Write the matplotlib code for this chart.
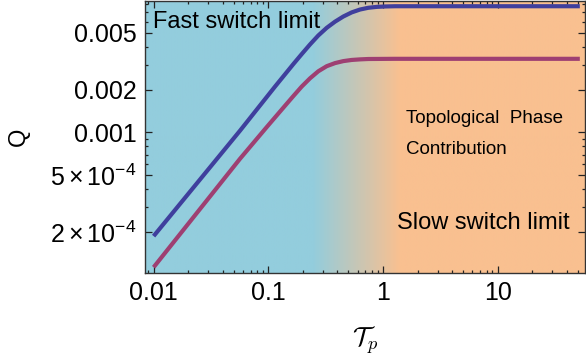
import numpy as np
import matplotlib
matplotlib.use('Agg')
import matplotlib.pyplot as plt
from matplotlib.colors import LinearSegmentedColormap
from matplotlib.ticker import FixedLocator, NullFormatter, LogLocator

plt.rcParams['font.family'] = ['Liberation Sans', 'DejaVu Sans']
plt.rcParams['mathtext.fontset'] = 'custom'
plt.rcParams['mathtext.rm'] = 'Liberation Sans'
plt.rcParams['mathtext.it'] = 'Liberation Sans:italic'

# curves
tau_blue = [0.01, 0.0567, 0.1144, 0.1398, 0.1652, 0.1955, 0.2310, 0.2729, 0.3229,
            0.3816, 0.4506, 0.5334, 0.6302, 0.7444, 0.8812, 1.041, 1.272, 52]
q_blue = [1.87e-4, 1.03e-3, 2.10e-3, 2.56e-3, 3.02e-3, 3.55e-3, 4.15e-3, 4.80e-3, 5.43e-3,
          6.00e-3, 6.52e-3, 6.97e-3, 7.30e-3, 7.51e-3, 7.62e-3, 7.67e-3, 7.70e-3, 7.70e-3]

tau_red = [0.01, 0.0567, 0.0968, 0.1398, 0.1652, 0.1955, 0.2310, 0.2729, 0.3229,
           0.3816, 0.4506, 0.5334, 0.6302, 0.7444, 1.272, 52]
q_red = [1.13e-4, 6.54e-4, 1.09e-3, 1.54e-3, 1.80e-3, 2.10e-3, 2.40e-3, 2.69e-3, 2.92e-3,
         3.07e-3, 3.17e-3, 3.23e-3, 3.26e-3, 3.28e-3, 3.29e-3, 3.29e-3]

xticks = [0.01, 0.1, 1, 10]
xticklabels = ['0.01', '0.1', '1', '10']
yticks = [2e-4, 5e-4, 0.001, 0.002, 0.005]
yticklabels = [r'$2\times10^{-4}$', r'$5\times10^{-4}$', '0.001', '0.002', '0.005']

xlim = (0.00841, 57.7)
ylim = (1.03e-4, 8.38e-3)
fade = (0.245, 1.41)  # blue -> orange transition

fig = plt.figure(figsize=(5.86, 3.58), dpi=100)
ax = fig.add_axes([145 / 586, 1 - 273 / 358, 440 / 586, 272 / 358])
ax.set_xscale('log')
ax.set_yscale('log')
ax.set_xlim(*xlim)
ax.set_ylim(*ylim)

# background gradient in axes coords
lx0, lx1 = np.log10(xlim)
f0 = (np.log10(fade[0]) - lx0) / (lx1 - lx0)
f1 = (np.log10(fade[1]) - lx0) / (lx1 - lx0)
cmap = LinearSegmentedColormap.from_list('bg', [(0, '#93CDDD'), (f0, '#93CDDD'),
                                               (f1, '#F9C090'), (1, '#F9C090')])
grad = np.linspace(0, 1, 600).reshape(1, -1)
ax.imshow(grad, cmap=cmap, extent=[0, 1, 0, 1], transform=ax.transAxes,
          aspect='auto', zorder=0)

ax.plot(tau_blue, q_blue, color='#3F3F9D', lw=3.0, solid_capstyle='butt',
        solid_joinstyle='round', zorder=3)
ax.plot(tau_red, q_red, color='#9E3F72', lw=3.0, solid_capstyle='butt',
        solid_joinstyle='round', zorder=3)

ax.xaxis.set_major_locator(FixedLocator(xticks))
ax.set_xticklabels(xticklabels)
ax.xaxis.set_minor_locator(LogLocator(base=10, subs=np.arange(2, 10)))
ax.xaxis.set_minor_formatter(NullFormatter())
ax.yaxis.set_major_locator(FixedLocator(yticks))
ax.set_yticklabels(yticklabels)
ax.yaxis.set_minor_locator(LogLocator(base=10, subs=np.arange(1, 10)))
ax.yaxis.set_minor_formatter(NullFormatter())

ax.tick_params(which='both', direction='in', top=True, right=True,
               labelsize=18, color='#222222', width=0.9)
ax.tick_params(which='major', length=5, pad=6)
ax.tick_params(which='minor', length=2.5)
for s in ax.spines.values():
    s.set_color('#333333')
    s.set_linewidth(1.0)
    s.set_zorder(5)

ax.set_ylabel('Q', fontsize=17, va='center')
ax.yaxis.set_label_coords(-0.287, 0.5)
ax.set_xlabel(r'$\mathcal{T}_p$', fontsize=19, va='center', math_fontfamily='cm')
ax.xaxis.set_label_coords(0.5, -0.245)

ax.text(0.018, 0.901, 'Fast switch limit', transform=ax.transAxes, fontsize=17,
        va='baseline', zorder=6)
ax.text(0.593, 0.5505, 'Topological  Phase', transform=ax.transAxes, fontsize=13.5,
        va='baseline', zorder=6)
ax.text(0.593, 0.436, 'Contribution', transform=ax.transAxes, fontsize=13.5,
        va='baseline', zorder=6)
ax.text(0.573, 0.161, 'Slow switch limit', transform=ax.transAxes, fontsize=17,
        va='baseline', zorder=6)

fig.savefig('out.png', dpi=100)
